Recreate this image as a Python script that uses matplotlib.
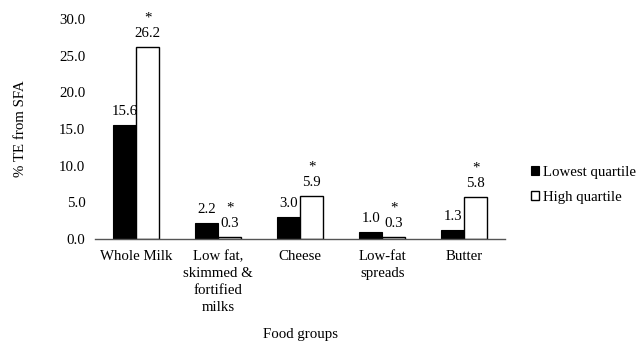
import matplotlib.pyplot as plt
import numpy as np

plt.rcParams['font.family'] = ['Liberation Serif', 'DejaVu Serif']

groups = ["Whole Milk", "Low fat,\nskimmed &\nfortified\nmilks", "Cheese", "Low-fat\nspreads", "Butter"]
lowest = [15.6, 2.2, 3.0, 1.0, 1.3]
high = [26.2, 0.3, 5.9, 0.3, 5.8]
significant = [True, True, True, True, True]

fig = plt.figure(figsize=(6.38, 3.44), dpi=100)
ax = fig.add_axes([0.149, 0.305, 0.643, 0.64])

x = np.arange(len(groups))
w = 0.28
ax.bar(x - w / 2, lowest, w, color='black', edgecolor='black', linewidth=0.8, label='Lowest quartile')
ax.bar(x + w / 2, high, w, color='white', edgecolor='black', linewidth=1.0, label='High quartile')

fs = 10.7
for xi, v in zip(x, lowest):
    ax.text(xi - w / 2, v + 0.9, f"{v:.1f}", ha='center', va='bottom', fontsize=fs)
for xi, v, s in zip(x, high, significant):
    ax.text(xi + w / 2, v + 0.9, f"{v:.1f}", ha='center', va='bottom', fontsize=fs)
    if s:
        ax.text(xi + w / 2, v + 3.0, "*", ha='center', va='bottom', fontsize=fs)

ax.set_xlim(-0.5, len(groups) - 0.5)
ax.set_ylim(0, 30)
ax.set_yticks(np.arange(0, 31, 5))
ax.set_yticklabels([f"{t:.1f}" for t in np.arange(0, 31, 5)], fontsize=fs)
ax.set_xticks(x)
ax.set_xticklabels(groups, fontsize=fs, linespacing=1.4)
ax.tick_params(length=0, pad=8)
ax.tick_params(axis='y', pad=7)

for side in ['top', 'right', 'left']:
    ax.spines[side].set_visible(False)
ax.spines['bottom'].set_color('#555555')
ax.spines['bottom'].set_linewidth(1.0)

ax.set_ylabel("% TE from SFA", fontsize=fs, labelpad=23)
ax.set_xlabel("Food groups", fontsize=fs, labelpad=10)

ax.legend(loc='center left', bbox_to_anchor=(1.045, 0.245), frameon=False,
          fontsize=fs, handlelength=0.55, handleheight=0.55,
          handletextpad=0.25, labelspacing=0.8, borderpad=0)

fig.savefig("out.png", dpi=100)
